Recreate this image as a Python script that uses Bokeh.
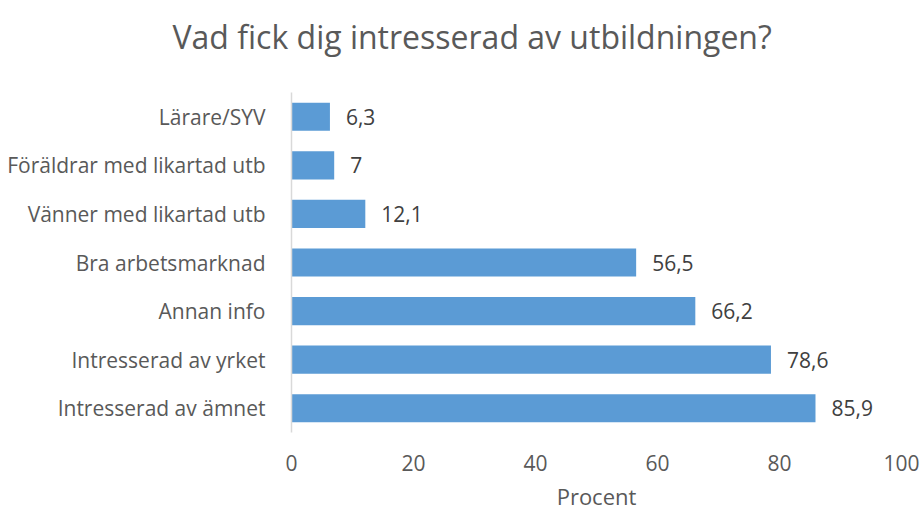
from bokeh.plotting import figure
from bokeh.models import ColumnDataSource, FixedTicker, Range1d, Title
from bokeh.core.properties import value
from bokeh.embed import file_html
from bokeh.resources import INLINE

categories = ["Intresserad av ämnet", "Intresserad av yrket", "Annan info",
              "Bra arbetsmarknad", "Vänner med likartad utb",
              "Föräldrar med likartad utb", "Lärare/SYV"]
values = [85.9, 78.6, 66.2, 56.5, 12.1, 7.0, 6.3]
value_labels = ["85,9", "78,6", "66,2", "56,5", "12,1", "7", "6,3"]
x_ticks = [0, 20, 40, 60, 80, 100]

FONT = "Open Sans"
GREY = "#595959"

src = ColumnDataSource(dict(cat=categories, val=values, lab=value_labels))

p = figure(width=920, height=513, y_range=categories, x_range=Range1d(0, 100),
           output_backend="svg", toolbar_location=None,
           min_border_left=291, min_border_right=19, min_border_top=92,
           min_border_bottom=81)
p.outline_line_color = None
p.background_fill_color = "white"
p.border_fill_color = "white"
p.y_range.range_padding = 0

p.hbar(y="cat", right="val", height=0.58, source=src, fill_color="#5B9BD5",
       line_color=None)
p.text(x="val", y="cat", text="lab", source=src, x_offset=16,
       text_align="left", text_baseline="middle", text_font=value(FONT),
       text_font_size="21px", text_color="#404040")

p.xgrid.visible = False
p.ygrid.visible = False

xa = p.xaxis[0]
xa.ticker = FixedTicker(ticks=x_ticks)
xa.axis_line_color = None
xa.major_tick_line_color = None
xa.minor_tick_line_color = None
xa.major_label_text_font = FONT
xa.major_label_text_font_size = "21px"
xa.major_label_text_color = GREY
xa.major_label_standoff = 16
xa.axis_label = "Procent"
xa.axis_label_text_font = FONT
xa.axis_label_text_font_size = "22px"
xa.axis_label_text_font_style = "normal"
xa.axis_label_text_color = GREY
xa.axis_label_standoff = 7

ya = p.yaxis[0]
ya.axis_line_color = "#D9D9D9"
ya.axis_line_width = 1.5
ya.major_tick_line_color = None
ya.minor_tick_line_color = None
ya.major_label_text_font = FONT
ya.major_label_text_font_size = "21px"
ya.major_label_text_color = GREY
ya.major_label_standoff = 20

# spacer between the frame and the title
spacer = Title(text=" ", text_font_size="1px", standoff=31,
               text_color="white")
p.add_layout(spacer, "above")

title = Title(text="Vad fick dig intresserad av utbildningen?", align="left",
              offset=-119, vertical_align="middle", standoff=0,
              text_font=FONT, text_font_size="32px", text_font_style="normal",
              text_color=GREY)
p.add_layout(title, "above")

open("out.html", "w").write(file_html(p, INLINE))
